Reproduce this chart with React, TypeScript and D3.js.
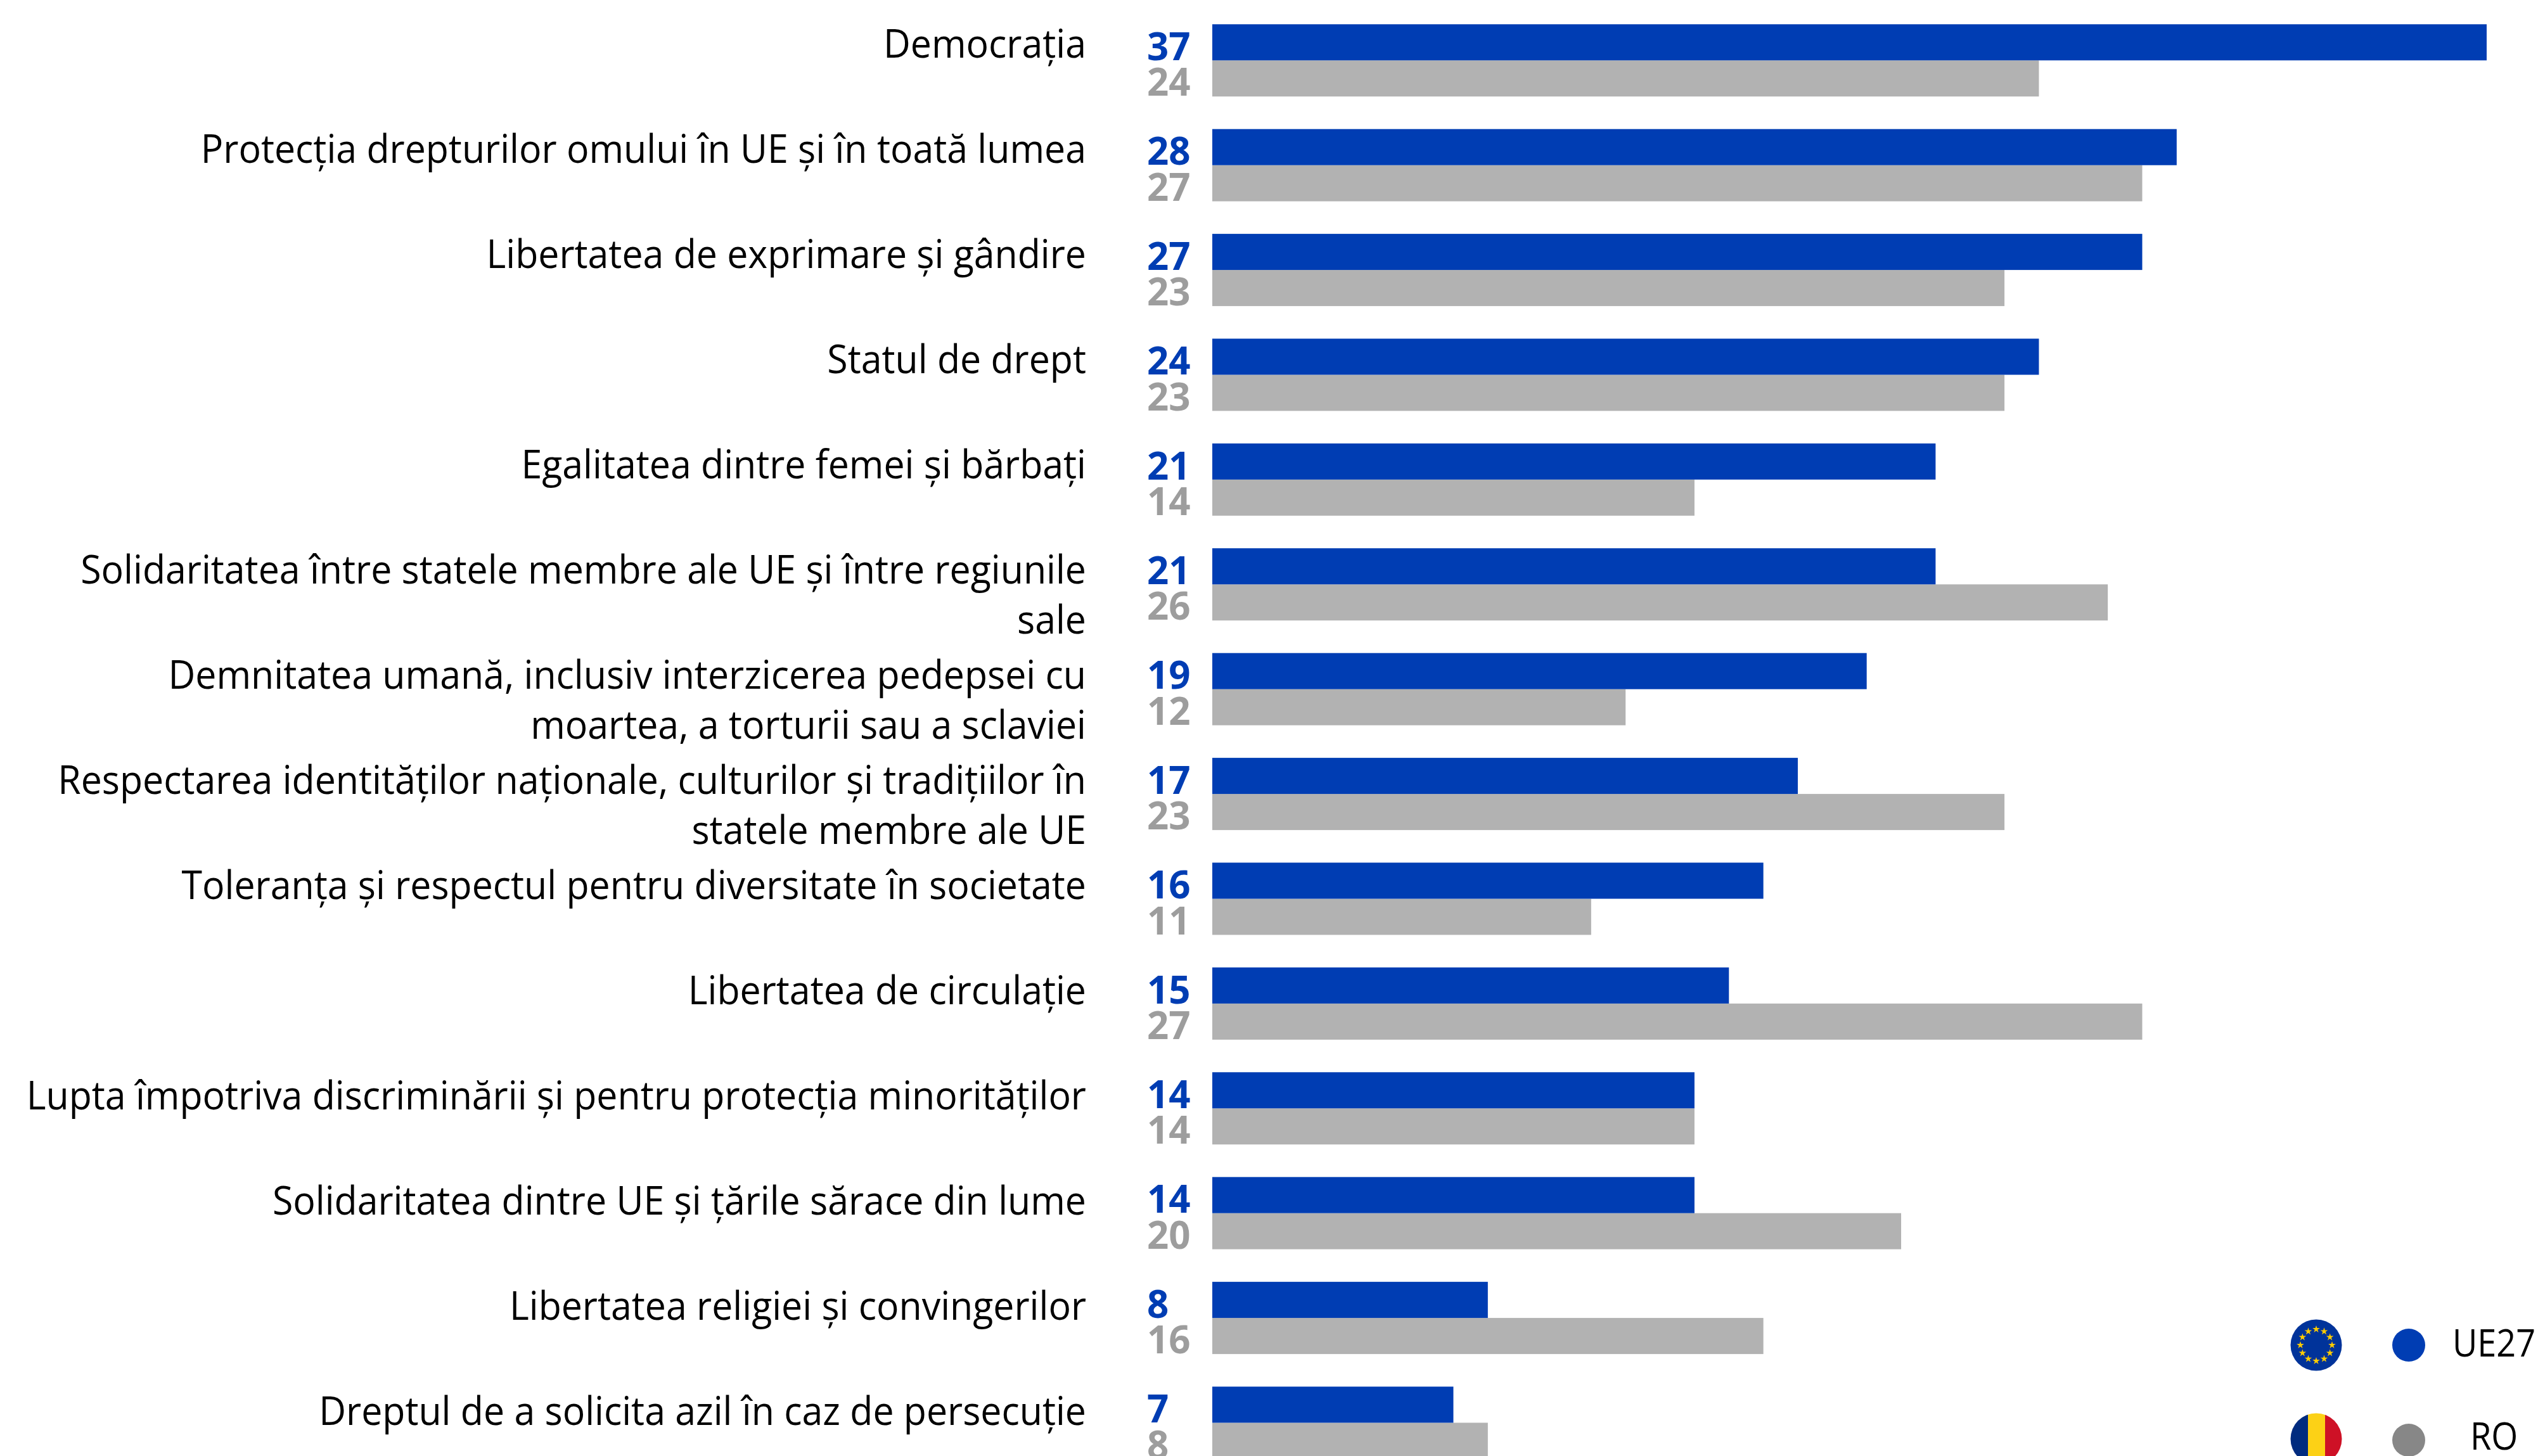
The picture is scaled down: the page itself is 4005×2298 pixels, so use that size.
import React from "react";
import * as d3 from "d3";

const categories: string[][] = [
  ["Democrația"],
  ["Protecția drepturilor omului în UE și în toată lumea"],
  ["Libertatea de exprimare și gândire"],
  ["Statul de drept"],
  ["Egalitatea dintre femei și bărbați"],
  ["Solidaritatea între statele membre ale UE și între regiunile", "sale"],
  ["Demnitatea umană, inclusiv interzicerea pedepsei cu", "moartea, a torturii sau a sclaviei"],
  ["Respectarea identităților naționale, culturilor și tradițiilor în", "statele membre ale UE"],
  ["Toleranța și respectul pentru diversitate în societate"],
  ["Libertatea de circulație"],
  ["Lupta împotriva discriminării și pentru protecția minorităților"],
  ["Solidaritatea dintre UE și țările sărace din lume"],
  ["Libertatea religiei și convingerilor"],
  ["Dreptul de a solicita azil în caz de persecuție"],
];
const ue27 = [37, 28, 27, 24, 21, 21, 19, 17, 16, 15, 14, 14, 8, 7];
const ro = [24, 27, 23, 23, 14, 26, 12, 23, 11, 27, 14, 20, 16, 8];

const W = 4005, H = 2298;
const FONT = "'Open Sans', sans-serif";
const BLUE = "#003DB3", GRAY = "#B2B2B2", GRAYTXT = "#9D9D9D";
const LABEL_SCALE = 0.952;

const x = d3.scaleLinear().domain([0, 37]).range([1913, 3924]);
const y = d3.scaleLinear().domain([0, 13]).range([38.3, 2188.5]);
const labelY = d3.scaleLinear().domain([0, 13]).range([91, 2249]);
const BAR = 57;

const stars = d3.range(12).map((i) => (i * 2 * Math.PI) / 12);
const starPath = d3.symbol().type(d3.symbolStar).size(42)() as string;

export default function App() {
  return (
    <svg width={W} height={H} viewBox={`0 0 ${W} ${H}`}
      style={{ position: "absolute", left: 0, top: 0, display: "block", background: "#fff" }}>
      <defs>
        <clipPath id="roClip"><circle cx={3655} cy={2271} r={40.5} /></clipPath>
      </defs>
      {categories.map((lines, i) => (
        <g key={i}>
          {lines.map((t, j) => (
            <text key={j} transform={`translate(1714 ${labelY(i) + j * 79}) scale(${LABEL_SCALE} 1)`}
              textAnchor="end" fontFamily={FONT} fontSize={62} fill="#000">{t}</text>
          ))}
          <text x={1810} y={y(i) + 56.6} fontFamily={FONT} fontWeight={700} fontSize={60} fill={BLUE}>{ue27[i]}</text>
          <text x={1810} y={y(i) + 113} fontFamily={FONT} fontWeight={700} fontSize={60} fill={GRAYTXT}>{ro[i]}</text>
          <rect x={x(0)} y={y(i) + BAR} width={x(ro[i]) - x(0)} height={BAR} fill={GRAY} />
          <rect x={x(0)} y={y(i)} width={x(ue27[i]) - x(0)} height={BAR} fill={BLUE} />
        </g>
      ))}
      <circle cx={3655} cy={2123} r={40.5} fill="#00339A" />
      {stars.map((a, i) => (
        <path key={i} d={starPath} fill="#FFCC00"
          transform={`translate(${3655 + 25 * Math.sin(a)} ${2123 - 25 * Math.cos(a)})`} />
      ))}
      <circle cx={3801} cy={2123} r={26} fill={BLUE} />
      <text x={0} y={0} fontFamily={FONT} fontSize={60} fill="#000"
        transform={`translate(3870 2141) scale(0.9 1)`}>UE27</text>
      <g clipPath="url(#roClip)">
        <rect x={3614} y={2230} width={28} height={82} fill="#002B7F" />
        <rect x={3642} y={2230} width={27} height={82} fill="#FCD116" />
        <rect x={3669} y={2230} width={28} height={82} fill="#CE1126" />
      </g>
      <circle cx={3801} cy={2273} r={26} fill="#878787" />
      <text x={0} y={0} fontFamily={FONT} fontSize={60} fill="#000"
        transform={`translate(3898 2288) scale(0.9 1)`}>RO</text>
    </svg>
  );
}
